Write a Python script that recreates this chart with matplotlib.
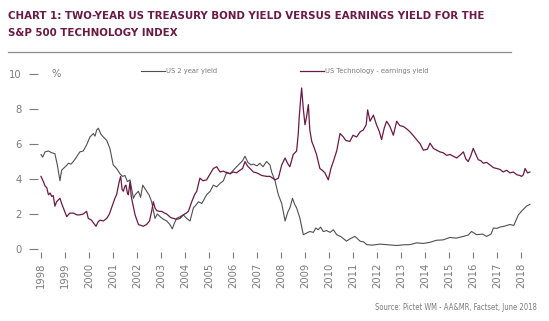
import os
import matplotlib
matplotlib.use('Agg')
import matplotlib.pyplot as plt
from matplotlib import font_manager
from matplotlib.lines import Line2D


def find_font(patterns):
    # look for a narrow / condensed face among the installed fonts
    files = [f.fname for f in font_manager.fontManager.ttflist]
    for p in patterns:
        for fn in files:
            if os.path.basename(fn).lower() == p.lower():
                return fn
    return None


reg_file = find_font(['LiberationSansNarrow-Regular.ttf', 'DejaVuSansCondensed.ttf'])
bold_file = find_font(['LiberationSansNarrow-Bold.ttf', 'DejaVuSansCondensed-Bold.ttf'])
narrow = reg_file is not None

# US 2 year yield (decimal year, %)
us2_t = [1998.00, 1998.07, 1998.17, 1998.31, 1998.44, 1998.58, 1998.68, 1998.79, 1998.86, 1998.93,
         1999.05, 1999.14, 1999.25, 1999.35, 1999.50, 1999.62, 1999.76, 1999.90, 2000.04, 2000.18,
         2000.25, 2000.32, 2000.39, 2000.50, 2000.60, 2000.74, 2000.87, 2001.01, 2001.15, 2001.29,
         2001.40, 2001.50, 2001.60, 2001.71, 2001.85, 2001.92, 2002.06, 2002.15, 2002.24, 2002.40,
         2002.50, 2002.61, 2002.75, 2002.85, 2002.96, 2003.10, 2003.24, 2003.37, 2003.47, 2003.55,
         2003.65, 2003.80, 2003.93, 2004.07, 2004.21, 2004.35, 2004.45, 2004.56, 2004.70, 2004.90,
         2005.05, 2005.18, 2005.32, 2005.46, 2005.60, 2005.74, 2005.88, 2006.01, 2006.15, 2006.29,
         2006.40, 2006.50, 2006.62, 2006.75, 2006.85, 2007.00, 2007.12, 2007.25, 2007.40, 2007.54,
         2007.61, 2007.75, 2007.89, 2008.03, 2008.17, 2008.28, 2008.37, 2008.48, 2008.57, 2008.65,
         2008.79, 2008.93, 2009.05, 2009.20, 2009.35, 2009.45, 2009.55, 2009.65, 2009.76, 2009.90,
         2010.05, 2010.18, 2010.32, 2010.50, 2010.73, 2010.90, 2011.08, 2011.18, 2011.29, 2011.45,
         2011.57, 2011.80, 2012.12, 2012.40, 2012.82, 2013.10, 2013.37, 2013.65, 2013.93, 2014.20,
         2014.48, 2014.75, 2015.04, 2015.30, 2015.60, 2015.80, 2015.94, 2016.15, 2016.40, 2016.57,
         2016.75, 2016.85, 2017.00, 2017.12, 2017.30, 2017.54, 2017.70, 2017.89, 2018.05, 2018.23,
         2018.37]
us2_v = [5.40, 5.25, 5.55, 5.60, 5.50, 5.45, 4.80, 3.90, 4.50, 4.60,
         4.75, 4.90, 4.85, 5.00, 5.30, 5.55, 5.60, 5.95, 6.40, 6.60,
         6.45, 6.80, 6.90, 6.55, 6.40, 6.20, 5.75, 4.80, 4.60, 4.30,
         4.15, 4.20, 3.85, 3.95, 2.90, 3.10, 3.30, 2.95, 3.65, 3.30,
         3.10, 2.70, 1.75, 2.00, 1.85, 1.70, 1.60, 1.40, 1.15, 1.45,
         1.75, 1.85, 1.95, 1.75, 1.60, 2.35, 2.50, 2.70, 2.60, 3.10,
         3.30, 3.65, 3.55, 3.75, 3.90, 4.40, 4.30, 4.50, 4.70, 4.90,
         5.05, 5.30, 4.95, 4.80, 4.85, 4.75, 4.90, 4.70, 5.00, 4.80,
         4.40, 3.90, 3.10, 2.60, 1.60, 2.10, 2.35, 2.90, 2.55, 2.35,
         1.75, 0.82, 0.90, 1.00, 0.95, 1.20, 1.10, 1.25, 1.00, 1.05,
         0.95, 1.10, 0.82, 0.70, 0.45, 0.60, 0.72, 0.60, 0.45, 0.40,
         0.25, 0.22, 0.28, 0.25, 0.20, 0.24, 0.25, 0.35, 0.32, 0.38,
         0.50, 0.52, 0.66, 0.62, 0.72, 0.80, 1.00, 0.82, 0.85, 0.72,
         0.85, 1.20, 1.18, 1.25, 1.30, 1.40, 1.35, 1.95, 2.20, 2.45,
         2.55]

# US Technology - earnings yield (decimal year, %)
tech_t = [1998.00, 1998.10, 1998.17, 1998.24, 1998.31, 1998.38, 1998.45, 1998.51, 1998.58, 1998.65,
          1998.72, 1998.79, 1998.86, 1998.93, 1999.07, 1999.20, 1999.35, 1999.50, 1999.62, 1999.76,
          1999.90, 1999.97, 2000.10, 2000.18, 2000.29, 2000.38, 2000.46, 2000.60, 2000.74, 2000.85,
          2000.94, 2001.08, 2001.15, 2001.26, 2001.32, 2001.38, 2001.43, 2001.50, 2001.54, 2001.60,
          2001.64, 2001.71, 2001.76, 2001.82, 2001.92, 2002.06, 2002.26, 2002.40, 2002.52, 2002.61,
          2002.68, 2002.75, 2002.82, 2002.92, 2003.03, 2003.15, 2003.24, 2003.40, 2003.51, 2003.65,
          2003.79, 2003.93, 2004.05, 2004.14, 2004.28, 2004.40, 2004.49, 2004.62, 2004.75, 2004.90,
          2005.05, 2005.18, 2005.32, 2005.46, 2005.60, 2005.74, 2005.88, 2006.01, 2006.15, 2006.29,
          2006.40, 2006.50, 2006.60, 2006.71, 2006.85, 2006.99, 2007.20, 2007.40, 2007.54, 2007.65,
          2007.75, 2007.89, 2008.03, 2008.17, 2008.27, 2008.37, 2008.51, 2008.65, 2008.72, 2008.76,
          2008.82, 2008.86, 2008.93, 2009.00, 2009.07, 2009.14, 2009.20, 2009.28, 2009.38, 2009.48,
          2009.62, 2009.72, 2009.83, 2009.97, 2010.08, 2010.18, 2010.32, 2010.46, 2010.60, 2010.70,
          2010.87, 2011.00, 2011.15, 2011.30, 2011.43, 2011.55, 2011.61, 2011.71, 2011.85, 2011.98,
          2012.10, 2012.19, 2012.30, 2012.40, 2012.54, 2012.68, 2012.82, 2012.95, 2013.10, 2013.25,
          2013.37, 2013.50, 2013.65, 2013.80, 2013.93, 2014.10, 2014.21, 2014.35, 2014.48, 2014.62,
          2014.76, 2014.90, 2015.04, 2015.18, 2015.32, 2015.45, 2015.60, 2015.70, 2015.80, 2015.90,
          2016.01, 2016.12, 2016.22, 2016.32, 2016.43, 2016.57, 2016.71, 2016.85, 2016.98, 2017.12,
          2017.26, 2017.40, 2017.54, 2017.68, 2017.82, 2017.95, 2018.03, 2018.10, 2018.17, 2018.27,
          2018.37]
tech_v = [4.15, 3.85, 3.60, 3.50, 3.10, 3.20, 3.00, 3.05, 2.45, 2.70,
          2.80, 2.90, 2.60, 2.35, 1.85, 2.05, 2.05, 1.95, 1.95, 2.00,
          2.15, 1.75, 1.65, 1.50, 1.30, 1.55, 1.65, 1.60, 1.75, 2.00,
          2.35, 2.90, 3.10, 3.85, 4.15, 3.40, 3.30, 3.60, 3.65, 3.20,
          3.10, 3.85, 3.00, 2.60, 1.95, 1.40, 1.30, 1.40, 1.60, 2.15,
          2.70, 2.35, 2.20, 2.15, 2.15, 2.05, 2.00, 1.80, 1.75, 1.70,
          1.75, 1.95, 2.05, 2.15, 2.70, 3.10, 3.30, 4.05, 3.90, 3.95,
          4.30, 4.60, 4.70, 4.40, 4.45, 4.35, 4.30, 4.40, 4.35, 4.50,
          4.60, 5.00, 4.75, 4.60, 4.40, 4.35, 4.20, 4.15, 4.15, 4.05,
          3.95, 4.05, 4.80, 5.20, 4.90, 4.70, 5.40, 5.60, 6.60, 7.55,
          8.60, 9.20, 8.00, 7.10, 7.60, 8.25, 6.80, 6.15, 5.80, 5.40,
          4.60, 4.50, 4.35, 3.95, 4.60, 5.00, 5.60, 6.60, 6.40, 6.20,
          6.15, 6.50, 6.40, 6.70, 6.80, 7.10, 7.95, 7.30, 7.65, 7.10,
          6.70, 6.25, 6.90, 7.30, 7.00, 6.50, 7.30, 7.05, 7.00, 6.85,
          6.70, 6.50, 6.25, 6.00, 5.65, 5.70, 6.05, 5.75, 5.65, 5.55,
          5.50, 5.35, 5.40, 5.30, 5.20, 5.35, 5.55, 5.15, 5.00, 5.30,
          5.75, 5.40, 5.10, 5.05, 4.90, 4.95, 4.80, 4.65, 4.60, 4.55,
          4.40, 4.50, 4.35, 4.40, 4.25, 4.20, 4.15, 4.25, 4.60, 4.35,
          4.40]

years = list(range(1998, 2019))

maroon = '#6b1a45'
grey_line = '#4f4f4f'
grey_text = '#7a7a7a'

if narrow:
    f_reg = font_manager.FontProperties(fname=reg_file)
    f_bold = font_manager.FontProperties(fname=bold_file if bold_file else reg_file)
    title_size, tick_size, small_size, src_size = 8.2, 8, 5.4, 5.5
else:
    f_reg = font_manager.FontProperties(family='DejaVu Sans')
    f_bold = font_manager.FontProperties(family='DejaVu Sans', weight='bold')
    title_size, tick_size, small_size, src_size = 7.2, 7, 4.8, 4.8

fig = plt.figure(figsize=(5.49, 3.21), dpi=100)
W, H = 549, 321
x_left, x_right = 38, 536
y_bot, y_top = 252, 74
px_per_year = 24.0
px_per_unit = 17.5
ax = fig.add_axes([x_left / W, 1 - y_bot / H, (x_right - x_left) / W, (y_bot - y_top) / H])
ax.set_xlim(1998 - (41 - x_left) / px_per_year, 1998 + (x_right - 41) / px_per_year)
ax.set_ylim(-(y_bot - 249) / px_per_unit, 10)

l1, = ax.plot(us2_t, us2_v, color=grey_line, lw=0.8, clip_on=False)
l2, = ax.plot(tech_t, tech_v, color=maroon, lw=0.9, clip_on=False)

for s in ax.spines.values():
    s.set_visible(False)

ax.set_yticks([0, 2, 4, 6, 8, 10])
ax.set_yticklabels(['0', '2', '4', '6', '8', '10'], fontproperties=f_reg, fontsize=tick_size)
ax.set_xticks(years)
ax.set_xticklabels([str(y) for y in years], rotation=90, fontproperties=f_reg, fontsize=tick_size)
ax.tick_params(axis='y', length=6.5, width=0.8, color=grey_text, pad=5.5, labelcolor=grey_text)
ax.tick_params(axis='x', length=4.5, width=0.8, color=grey_text, pad=3, labelcolor=grey_text)

fig.text(52 / W, 1 - 74 / H, '%', ha='left', va='center',
         fontproperties=f_reg, fontsize=tick_size, color=grey_text)

leg_font = f_reg.copy()
leg_font.set_size(small_size)
leg1 = ax.legend(handles=[l1], labels=['US 2 year yield'], loc='center left',
                 bbox_to_anchor=(141 / W, 1 - 71 / H), bbox_transform=fig.transFigure,
                 frameon=False, prop=leg_font, handlelength=3.2, handletextpad=0.15,
                 labelcolor=grey_text, borderaxespad=0, borderpad=0)
ax.add_artist(leg1)
ax.legend(handles=[l2], labels=['US Technology - earnings yield'], loc='center left',
          bbox_to_anchor=(300 / W, 1 - 71 / H), bbox_transform=fig.transFigure,
          frameon=False, prop=leg_font, handlelength=3.2, handletextpad=0.15,
          labelcolor=grey_text, borderaxespad=0, borderpad=0)

fig.text(8 / W, 1 - 16 / H, 'CHART 1: TWO-YEAR US TREASURY BOND YIELD VERSUS EARNINGS YIELD FOR THE',
         ha='left', va='center', fontproperties=f_bold, fontsize=title_size, color=maroon)
fig.text(8 / W, 1 - 33 / H, 'S&P 500 TECHNOLOGY INDEX',
         ha='left', va='center', fontproperties=f_bold, fontsize=title_size, color=maroon)
fig.add_artist(Line2D([8 / W, 511 / W], [1 - 52 / H, 1 - 52 / H], transform=fig.transFigure,
                      color='#8c8c8c', lw=0.9))

fig.text(537 / W, 1 - 307 / H, 'Source: Pictet WM - AA&MR, Factset, June 2018',
         ha='right', va='center', fontproperties=f_reg, fontsize=src_size, color=grey_text)

fig.savefig('out.png', dpi=100)
